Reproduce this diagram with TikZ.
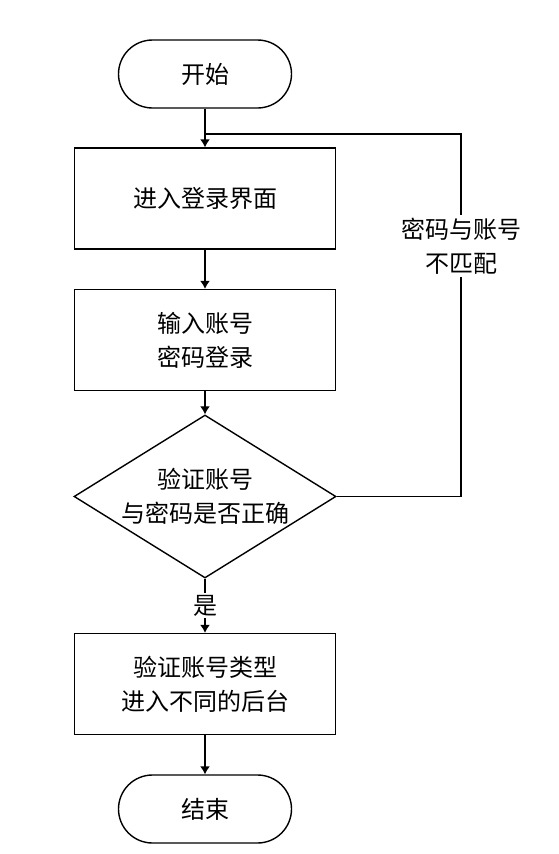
\documentclass[tikz,border=0pt]{standalone}
\usepackage{fontspec}
\usetikzlibrary{shapes.geometric,arrows.meta}
\newfontfamily\cjk{Noto Sans CJK SC}
\tikzset{fc/.style={x=1pt,y=-1pt,line width=1.4pt,font=\cjk\fontsize{24}{34}\selectfont},
  endbox/.style={draw,rounded corners=34pt,minimum width=173pt,minimum height=68pt},
  procbox/.style={draw,align=center,minimum width=261pt,minimum height=101pt},
  decide/.style={draw,diamond,align=center,inner sep=0pt,aspect=1.6,minimum width=262pt,minimum height=163pt},
  flow/.style={-{Latex[length=8pt,width=10pt]}}}
\begin{document}
\begin{tikzpicture}[fc]
  \useasboundingbox (0,0) rectangle (558,854);
  \node[endbox] (start) at (205,74) {开始};
  \node[procbox] (login) at (205,198.5) {进入登录界面};
  \node[procbox] (input) at (205,340) {输入账号\\密码登录};
  \node[decide] (check) at (205,496.5) {验证账号\\与密码是否正确};
  \node[procbox] (route) at (205,684) {验证账号类型\\进入不同的后台};
  \node[endbox] (stop) at (205,809) {结束};
  % main line
  \draw[flow] (start) -- (login);
  \draw[flow] (login) -- (input);
  \draw[flow] (input) -- (check);
  \draw[flow] (check) -- node[fill=white,inner sep=2pt] (yes) {是} (route);
  \draw[flow] (route) -- (stop);
  % mismatch loop back
  \coordinate (back) at (205,134);
  \coordinate (corner) at (461,134);
  \draw (check.east) -| (corner) -- (back);
  \node[fill=white,align=center,inner sep=3pt] (nomatch) at (461,246) {密码与账号\\不匹配};
\end{tikzpicture}
\end{document}
